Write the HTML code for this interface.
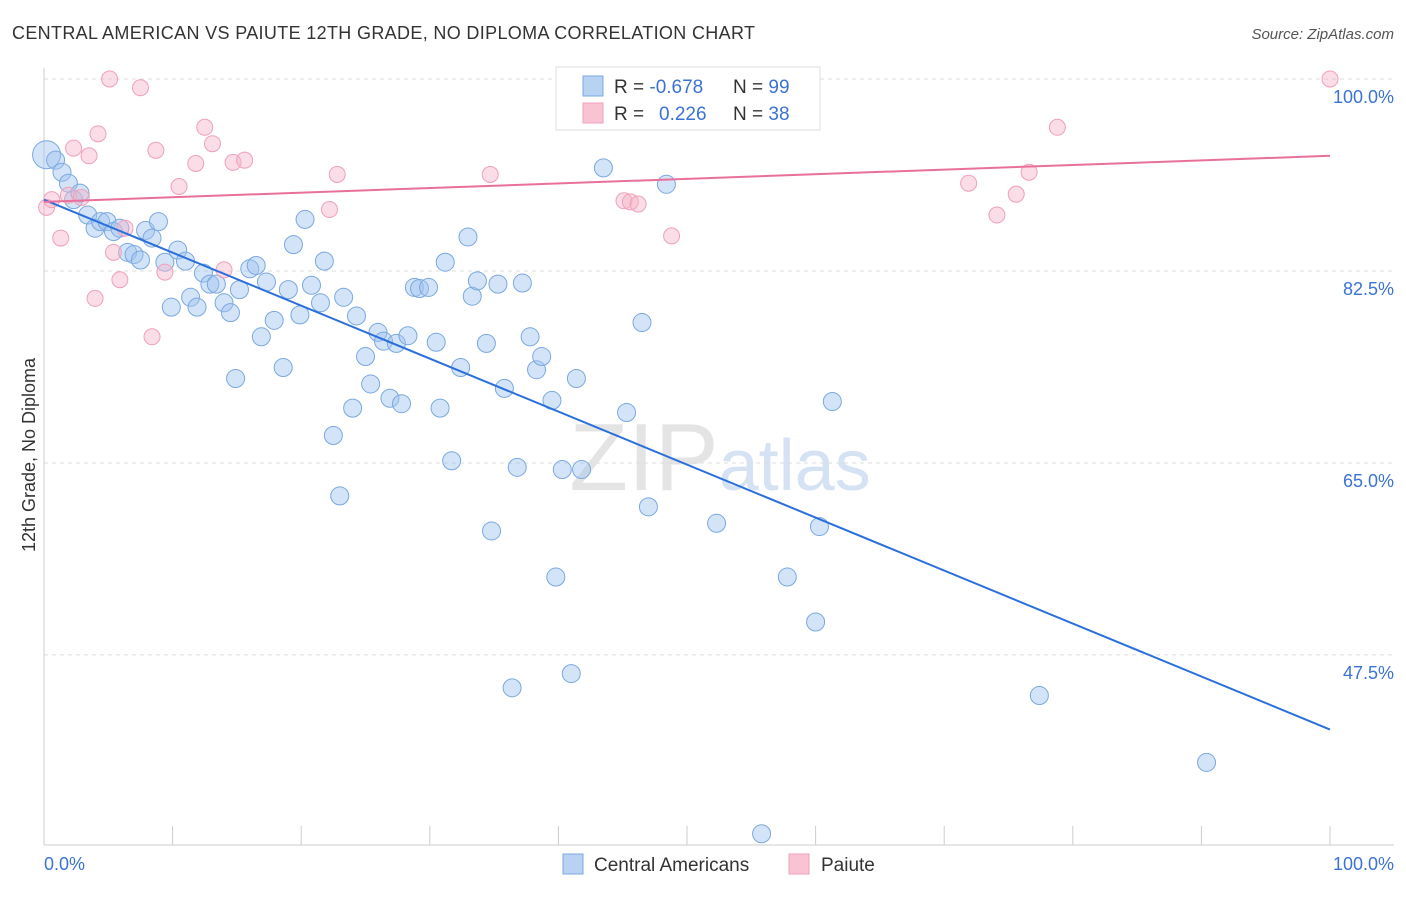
<!DOCTYPE html>
<html><head><meta charset="utf-8"><style>
body{margin:0;background:#fff;font-family:"Liberation Sans",sans-serif;}
svg text{font-family:"Liberation Sans",sans-serif;}
</style></head><body>
<svg id="chart" width="1406" height="892">
<text x="12" y="39" font-size="18" fill="#333" textLength="743">CENTRAL AMERICAN VS PAIUTE 12TH GRADE, NO DIPLOMA CORRELATION CHART</text>
<text x="1394" y="39" font-size="15" fill="#555" text-anchor="end" font-style="italic">Source: ZipAtlas.com</text>
<text x="720" y="490" font-size="96" fill="#e4e4e4" text-anchor="middle" font-family="Liberation Serif">ZIP<tspan fill="#d4e2f4" font-family="Liberation Sans" font-size="72">atlas</tspan></text>
<g id="grid"></g>
<g id="axes"></g>
<g id="pts"></g>
<g id="lines"></g>
<text transform="translate(35,455) rotate(-90)" font-size="18" fill="#333" text-anchor="middle">12th Grade, No Diploma</text>
<text x="44" y="870" font-size="18" fill="#3b73d4">0.0%</text>
<text x="1394" y="870" font-size="18" fill="#3b73d4" text-anchor="end">100.0%</text>
<g>
<rect x="556" y="67" width="264" height="63" fill="#fff" stroke="#ddd"/>
<rect x="583" y="76" width="20" height="20" fill="#b8d2f4" stroke="#7aa8e0"/>
<rect x="583" y="103" width="20" height="20" fill="#f8c4d4" stroke="#f0a0b8"/>
<text x="614" y="93" font-size="19" fill="#333">R = <tspan fill="#3b73d4">-0.678</tspan><tspan x="733">N = </tspan><tspan fill="#3b73d4">99</tspan></text>
<text x="614" y="120" font-size="19" fill="#333">R = <tspan x="659" fill="#3b73d4">0.226</tspan><tspan x="733">N = </tspan><tspan fill="#3b73d4">38</tspan></text>
</g>
<g>
<rect x="563" y="854" width="20" height="20" fill="#b8d2f4" stroke="#7aa8e0"/>
<text x="594" y="871" font-size="19" fill="#333">Central Americans</text>
<rect x="789" y="854" width="20" height="20" fill="#f8c4d4" stroke="#f0a0b8"/>
<text x="821" y="871" font-size="19" fill="#333">Paiute</text>
</g>
</svg>
<script>
const yTicks=[100,82.5,65,47.5];
const yTickLabels=["100.0%","82.5%","65.0%","47.5%"];
const blueX=[0.2,0.9,1.4,1.9,2.3,2.8,3.4,3.97,4.4,4.9,5.4,5.9,6.5,7.0,7.5,7.9,8.4,8.9,9.4,9.9,10.4,11.0,11.4,11.9,12.4,12.9,13.4,14.0,14.5,14.9,15.2,16.0,16.5,16.9,17.3,17.9,18.6,19.0,19.4,19.9,20.3,20.8,21.5,21.8,22.5,23.0,23.3,24.0,24.3,25.0,25.4,25.97,26.4,26.9,27.4,27.8,28.3,28.8,29.2,29.9,30.5,30.8,31.2,31.7,32.4,32.97,33.3,33.7,34.4,34.8,35.3,35.8,36.4,36.8,37.2,37.8,38.3,38.7,39.5,39.8,40.3,41.0,41.4,41.8,43.5,45.3,46.5,47.0,48.4,52.3,55.8,57.8,60.0,60.3,61.3,77.4,90.4];
const blueY=[93.1,92.6,91.5,90.5,89.0,89.6,87.6,86.4,87.0,87.0,86.1,86.4,84.2,84.0,83.5,86.2,85.5,87.0,83.3,79.2,84.4,83.4,80.1,79.2,82.3,81.3,81.3,79.6,78.7,72.7,80.8,82.7,83.0,76.5,81.5,78.0,73.7,80.8,84.9,78.5,87.2,81.2,79.6,83.4,67.5,62.0,80.1,70.0,78.4,74.7,72.2,76.9,76.1,70.9,75.9,70.4,76.6,81.0,80.9,81.0,76.0,70.0,83.3,65.2,73.7,85.6,80.2,81.6,75.9,58.8,81.3,71.8,44.5,64.6,81.4,76.5,73.5,74.7,70.7,54.6,64.4,45.8,72.7,64.4,91.9,69.6,77.8,61.0,90.4,59.5,31.2,54.6,50.5,59.2,70.6,43.8,37.7];
const pinkX=[0.2,0.6,1.3,1.9,2.3,2.9,3.5,3.97,4.2,5.1,5.4,5.9,6.3,7.5,8.4,8.7,9.4,10.5,11.8,12.5,13.1,14.0,14.7,15.6,22.2,22.8,34.7,45.1,45.6,46.2,48.8,71.9,74.1,75.6,76.6,78.8,100];
const pinkY=[88.3,89.0,85.5,89.4,93.7,89.2,93.0,80.0,95.0,100,84.2,81.7,86.4,99.2,76.5,93.5,82.4,90.2,92.3,95.6,94.1,82.6,92.4,92.6,88.1,91.3,91.3,88.9,88.8,88.6,85.7,90.5,87.6,89.5,91.5,95.6,100];
const blueTrend=[89.0,40.7];
const pinkTrend=[88.8,93.0];
const NS="http://www.w3.org/2000/svg";
const sx=v=>44+v*12.86, sy=v=>79+(100-v)*10.97;
function mk(tag,attrs,parent){const e=document.createElementNS(NS,tag);for(const k in attrs)e.setAttribute(k,attrs[k]);document.getElementById(parent).appendChild(e);return e;}
yTicks.forEach((t,i)=>{
 const l=mk('line',{x1:44,x2:1394,y1:sy(t),y2:sy(t),stroke:'#ddd','stroke-dasharray':'4,4'},'grid');
 
 
 const tx=mk('text',{x:1394,y:sy(t)+24,'font-size':18,fill:'#3b73d4','text-anchor':'end'},'grid');
 tx.textContent=yTickLabels[i];
 
 
});
let a=mk('line',{x1:44,x2:44,y1:68,y2:845,stroke:'#ccc'},'axes');


a=mk('line',{x1:44,x2:1394,y1:845,y2:845,stroke:'#ccc'},'axes');


for(let i=1;i<=10;i++){const t=mk('line',{x1:sx(i*10),x2:sx(i*10),y1:826,y2:845,stroke:'#ccc'},'axes');
 
 }
blueX.forEach((x,i)=>{const c=mk('circle',{cx:sx(x),cy:sy(blueY[i]),r:i===0?14:9,fill:'rgba(160,196,240,0.45)',stroke:'#7aa8e0','stroke-width':1},'pts');
 
 });
pinkX.forEach((x,i)=>{const c=mk('circle',{cx:sx(x),cy:sy(pinkY[i]),r:8,fill:'rgba(245,180,200,0.45)',stroke:'#f0a0b8','stroke-width':1},'pts');
 
 });
let L=mk('line',{x1:sx(0),y1:sy(blueTrend[0]),x2:sx(100),y2:sy(blueTrend[1]),stroke:'#2a6fdb','stroke-width':2},'lines');


L=mk('line',{x1:sx(0),y1:sy(pinkTrend[0]),x2:sx(100),y2:sy(pinkTrend[1]),stroke:'#e8709a','stroke-width':2},'lines');


</script>
</body></html>
